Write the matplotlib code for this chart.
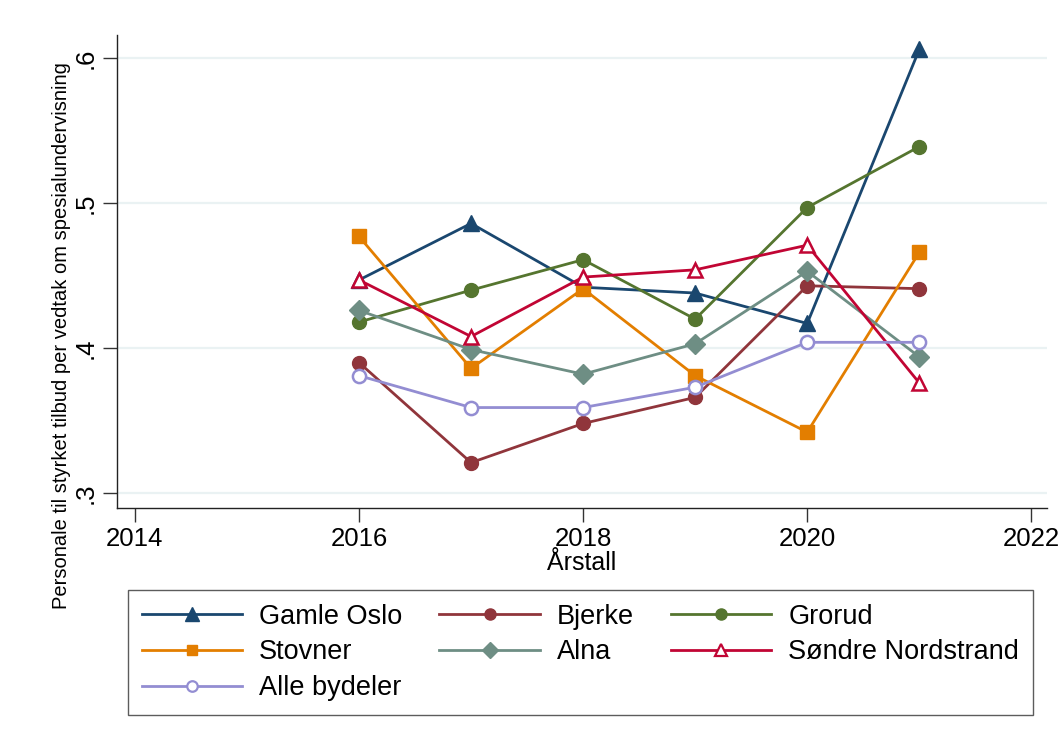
import matplotlib.pyplot as plt
from matplotlib.lines import Line2D

plt.rcParams['font.family'] = ['Liberation Sans', 'DejaVu Sans']

# data
years = [2016, 2017, 2018, 2019, 2020, 2021]
gamle_oslo = [0.447, 0.486, 0.442, 0.438, 0.417, 0.606]
bjerke = [0.390, 0.321, 0.348, 0.366, 0.443, 0.441]
grorud = [0.418, 0.440, 0.461, 0.420, 0.497, 0.539]
stovner = [0.477, 0.386, 0.441, 0.381, 0.342, 0.466]
alna = [0.426, 0.399, 0.382, 0.403, 0.453, 0.394]
sondre = [0.447, 0.408, 0.449, 0.454, 0.471, 0.376]
alle = [0.381, 0.359, 0.359, 0.373, 0.404, 0.404]

names = ["Gamle Oslo", "Bjerke", "Grorud", "Stovner", "Alna",
         "Søndre Nordstrand", "Alle bydeler"]
series = [gamle_oslo, bjerke, grorud, stovner, alna, sondre, alle]

xticks = [2014, 2016, 2018, 2020, 2022]
yticks = [0.3, 0.4, 0.5, 0.6]
ytick_labels = [".3", ".4", ".5", ".6"]

# stata s2color look
colors = ["#1a476f", "#90353b", "#55752f", "#e37e00", "#6e8e84", "#c10534", "#938dd2"]
markers = ["^", "o", "o", "s", "D", "^", "o"]
msizes = [12, 10, 10, 9.5, 10, 10.5, 9.5]
hollow = [False, False, False, False, False, True, True]

fig = plt.figure(figsize=(10.63, 7.35), dpi=100)
ax = fig.add_axes([117/1063, 1 - 508/735, (1047-117)/1063, (508-35)/735])

for i in range(len(series)):
    face = "white" if hollow[i] else colors[i]
    ax.plot(years, series[i], color=colors[i], lw=2, marker=markers[i],
            ms=msizes[i], mfc=face, mec=colors[i], mew=1.8 if hollow[i] else 1,
            label=names[i], zorder=3)

ax.set_xlim(2013.84, 2022.14)
ax.set_ylim(0.2897, 0.616)
ax.set_xticks(xticks)
ax.set_yticks(yticks)
ax.set_yticklabels(ytick_labels, rotation=90, va="center")
ax.tick_params(axis="both", labelsize=18.5, length=10, width=1, color="#333333")
ax.tick_params(axis="y", pad=4)
ax.grid(axis="y", color="#eaf2f3", lw=1.6, zorder=0)
for s in ["top", "right"]:
    ax.spines[s].set_visible(False)
for s in ["left", "bottom"]:
    ax.spines[s].set_color("#222222")
    ax.spines[s].set_linewidth(1)

ax.set_xlabel("Årstall", fontsize=18)
ax.xaxis.set_label_coords(0.5, (508 - 563) / 473, transform=ax.transAxes)
ax.xaxis.label.set_va("center")
ax.set_ylabel("Personale til styrket tilbud per vedtak om spesialundervisning",
              fontsize=14.5)
ax.yaxis.set_label_coords((62 - 117) / 930, (508 - 336) / 473, transform=ax.transAxes)
ax.yaxis.label.set_va("center")

# legend below, filled row by row like stata (matplotlib fills columns)
order = [0, 3, 6, 1, 4, 2, 5]
handles = []
labels = []
for i in order:
    face = "white" if hollow[i] else colors[i]
    handles.append(Line2D([], [], color=colors[i], lw=2, marker=markers[i],
                          ms=msizes[i] * 0.8, mfc=face, mec=colors[i],
                          mew=1.6 if hollow[i] else 1))
    labels.append(names[i])
leg = fig.legend(handles, labels, loc="upper left", ncol=3,
                 bbox_to_anchor=(128/1063, 1 - 590/735),
                 fontsize=19.5, frameon=True, fancybox=False,
                 edgecolor="#333333", handlelength=3.7, handletextpad=0.63,
                 columnspacing=1.38, labelspacing=0.36, borderpad=0.5,
                 borderaxespad=0)
leg.get_frame().set_linewidth(1)

fig.savefig("out.png", dpi=100, facecolor="white")
